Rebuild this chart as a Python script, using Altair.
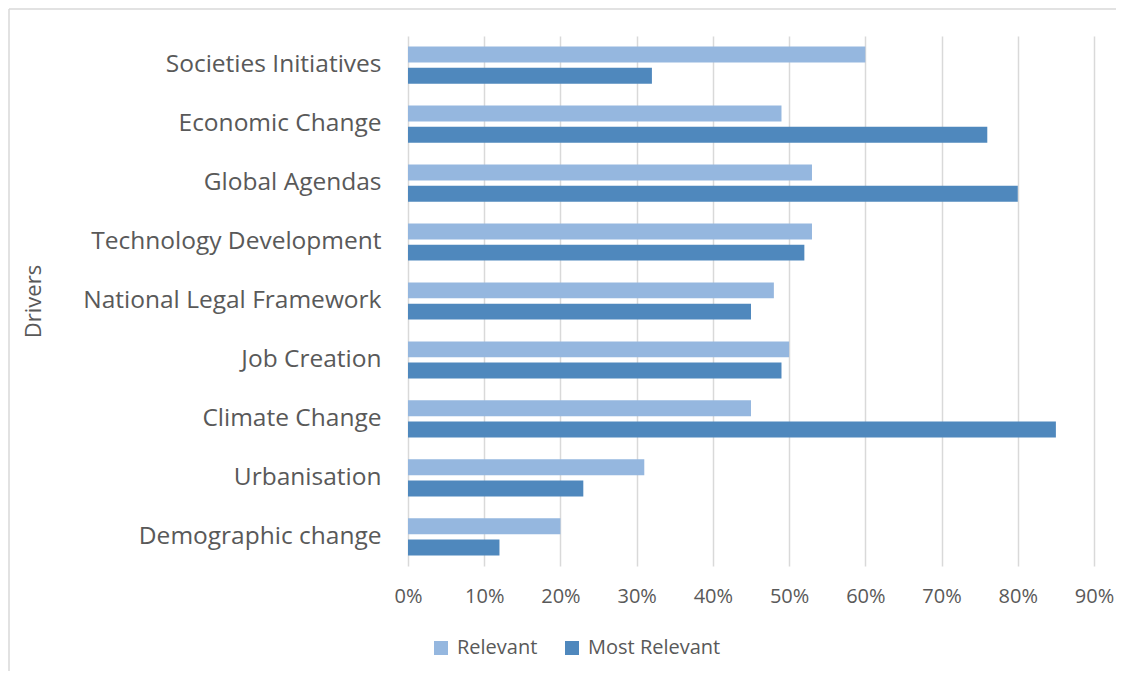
import altair as alt
import pandas as pd

drivers = ["Societies Initiatives", "Economic Change", "Global Agendas", "Technology Development",
           "National Legal Framework", "Job Creation", "Climate Change", "Urbanisation", "Demographic change"]
relevant = [0.60, 0.49, 0.53, 0.53, 0.48, 0.50, 0.45, 0.31, 0.20]
most_relevant = [0.32, 0.76, 0.80, 0.52, 0.45, 0.49, 0.85, 0.23, 0.12]
series = ["Relevant", "Most Relevant"]
colors = ["#95B7DF", "#4F88BD"]
ticks = [i / 10 for i in range(10)]

rows = []
for d, r, m in zip(drivers, relevant, most_relevant):
    rows.append({"Driver": d, "Series": "Relevant", "Value": r})
    rows.append({"Driver": d, "Series": "Most Relevant", "Value": m})
df = pd.DataFrame(rows)

FONT = "Open Sans"
GREY = "#595959"

bars = alt.Chart(df).mark_bar().encode(
    y=alt.Y("Driver:N", sort=drivers,
            scale=alt.Scale(paddingInner=0.37, paddingOuter=0.18),
            axis=alt.Axis(title="Drivers", titleFontSize=22, titleFontWeight="normal",
                          titleColor=GREY, titleFont=FONT, titleX=-363,
                          labelFontSize=24.5, labelColor=GREY, labelFont=FONT,
                          labelPadding=27, labelLimit=400, ticks=False, domain=False,
                          grid=False)),
    yOffset=alt.YOffset("Series:N", sort=series,
                        scale=alt.Scale(paddingInner=0.25, paddingOuter=0)),
    x=alt.X("Value:Q", scale=alt.Scale(domain=[0, 0.9], nice=False),
            axis=alt.Axis(title=None, format=".0%", values=ticks, labelFontSize=20,
                          labelColor=GREY, labelFont=FONT, labelPadding=20,
                          labelFlush=False,
                          ticks=False, domain=False, grid=True, gridColor="#d9d9d9",
                          gridWidth=1.5)),
    color=alt.Color("Series:N", sort=series,
                    scale=alt.Scale(domain=series, range=colors),
                    legend=alt.Legend(title=None, orient="none", direction="horizontal",
                                      legendX=23, legendY=602,
                                      symbolType="square", symbolSize=196, symbolStrokeWidth=0,
                                      labelFontSize=20, labelColor=GREY, labelFont=FONT,
                                      labelOffset=6, columnPadding=24)),
)

frame_src = pd.DataFrame({"a": [0]})
left_edge = alt.Chart(frame_src).mark_rule(color="#d9d9d9", strokeWidth=1.5).encode(
    x=alt.value(-399), y=alt.value(-27), y2=alt.value(635))
top_edge = alt.Chart(frame_src).mark_rule(color="#d9d9d9", strokeWidth=1.5).encode(
    x=alt.value(-399), x2=alt.value(708), y=alt.value(-27))

chart = alt.layer(left_edge, top_edge, bars).properties(
    width=686, height=530,
    padding=0,
).configure_view(stroke=None)

chart.save("out.html", embed_options={"renderer": "svg", "actions": False})
